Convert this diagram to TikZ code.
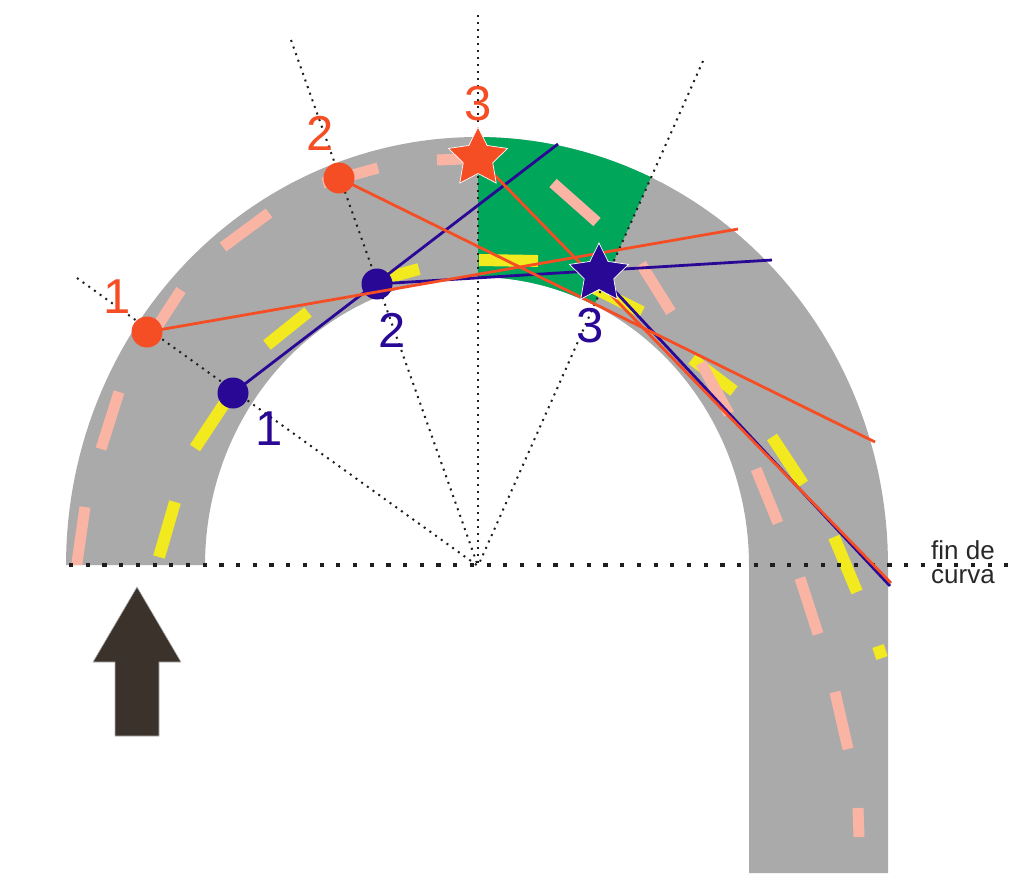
\documentclass[tikz,border=0pt]{standalone}
\usepackage{fontspec}
\setmainfont{Liberation Sans}
\usetikzlibrary{shapes.geometric}
\definecolor{roadgray}{RGB}{170,170,170}
\definecolor{rgreen}{RGB}{0,166,90}
\definecolor{rred}{RGB}{245,78,36}
\definecolor{rblue}{RGB}{42,8,150}
\definecolor{rpink}{RGB}{250,180,164}
\definecolor{ryellow}{RGB}{242,234,30}
\definecolor{arrowc}{RGB}{58,50,43}
\definecolor{dotc}{RGB}{30,30,30}
\definecolor{textc}{RGB}{40,40,40}
\def\roadpath{plot[domain=180:360,samples=121] ({477+411*cos(\x)},{565+428*sin(\x)}) -- (888,873) -- (749,873) -- plot[domain=0:-180,samples=121] ({477+272*cos(\x)},{565+288*sin(\x)}) -- cycle}
\tikzset{
  pinkdash/.style={draw=rpink, line width=11pt},
  yellowdash/.style={draw=ryellow, line width=12pt},
  raddot/.style={draw=dotc, line width=2pt, dash pattern=on 2pt off 5pt},
  hdot/.style={draw=dotc, line width=4.2pt, dash pattern=on 4.2pt off 12.5pt},
  reddot/.style={circle, fill=rred, minimum size=31pt, inner sep=0pt},
  bluedot/.style={circle, fill=rblue, minimum size=31pt, inner sep=0pt},
  redline/.style={draw=rred, line width=2.8pt},
  blueline/.style={draw=rblue, line width=2.8pt},
  starbase/.style={star, star points=5, star point ratio=2.0, minimum size=62pt, inner sep=0pt, draw=white, line width=0.7pt},
  redstar/.style={starbase, fill=rred},
  bluestar/.style={starbase, fill=rblue},
  numlabel/.style={font=\fontsize{49}{49}\selectfont, inner sep=0pt, anchor=base},
  rlabel/.style={numlabel, text=rred},
  blabel/.style={numlabel, text=rblue},
  fintext/.style={font=\fontsize{26}{26}\selectfont, text=textc, inner sep=0pt, anchor=base west},
}
\begin{document}
\begin{tikzpicture}[x=1pt,y=-1pt]
\useasboundingbox (0,0) rectangle (1029,879);
% road
\fill[roadgray] \roadpath;
\begin{scope}
  \clip \roadpath;
  \fill[rgreen] (478,566) -- (478,0) -- (730,0) -- cycle;
  % yellow dashes
  \foreach \a/\b in {{(159,557)}/{(175,502)}, {(195,448)}/{(228,398)}, {(267,345)}/{(308,312)}, {(372,282)}/{(419,269)}, {(479,260)}/{(538,261)}, {(590,286)}/{(642,312)}, {(692,359)}/{(734,391)}, {(772,437)}/{(803,484)}, {(834,537)}/{(857,592)}, {(878,646)}/{(882,658)}}
    \draw[yellowdash] \a -- \b;
  % pink dashes
  \foreach \a/\b in {{(76,570)}/{(85,507)}, {(101,449)}/{(119,392)}, {(155,330)}/{(181,290)}, {(223,247)}/{(269,213)}, {(323,183)}/{(378,168)}, {(437,160)}/{(485,158)}, {(553,183)}/{(597,222)}, {(641,264)}/{(671,312)}, {(701,363)}/{(729,414)}, {(756,469)}/{(778,523)}, {(800,578)}/{(818,634)}, {(835,692)}/{(848,749)}, {(858,808)}/{(859,837)}}
    \draw[pinkdash] \a -- \b;
\end{scope}
% dotted construction lines
\coordinate (C) at (478,566);
\coordinate (L1) at (77,278);
\coordinate (L2) at (291,40);
\coordinate (L3) at (478,15);
\coordinate (L4) at (703,61);
\coordinate (H1) at (69,565);
\coordinate (H2) at (1012,565);
\foreach \p in {L1,L2,L3,L4} \draw[raddot] (\p) -- (C);
\draw[hdot] (H1) -- (H2);
% blue trajectory
\node[bluedot] (bd1) at (233,393) {};
\node[bluedot] (bd2) at (377,284) {};
\coordinate (bsc) at (599,274);
\coordinate (b1e) at (558,144);
\coordinate (b2e) at (772,260);
\coordinate (b3e) at (890,586);
\draw[blueline] (bd1.center) -- (b1e);
\draw[blueline] (bd2.center) -- (b2e);
\draw[blueline] (bsc) -- (b3e);
% red trajectory
\coordinate (rd1c) at (147,332);
\coordinate (rd2c) at (339,178);
\coordinate (rsc) at (478,158);
\coordinate (r1e) at (738,229);
\coordinate (r2e) at (875,442);
\coordinate (r3e) at (891,583);
\draw[redline] (rd1c) -- (r1e);
\draw[redline] (rd2c) -- (r2e);
\draw[redline] (rsc) -- (r3e);
\node[bluestar] (bs) at (bsc) {};
\node[reddot] (rd1) at (rd1c) {};
\node[reddot] (rd2) at (rd2c) {};
\node[redstar] (rs) at (rsc) {};
% labels
\node[rlabel] (lr1) at (117,313) {1};
\node[rlabel] (lr2) at (320,150) {2};
\node[rlabel] (lr3) at (478,120) {3};
\node[blabel] (lb1) at (269,445) {1};
\node[blabel] (lb2) at (392,347) {2};
\node[blabel] (lb3) at (590,342) {3};
% direction arrow
\fill[arrowc, draw=gray!60, line width=0.6pt] (137,587) -- (181,662) -- (159,662) -- (159,736) -- (115,736) -- (115,662) -- (93,662) -- cycle;
% end of curve text
\node[fintext] (finA) at (931,559) {fin de};
\node[fintext] (finB) at (931,583) {curva};
\end{tikzpicture}
\end{document}
